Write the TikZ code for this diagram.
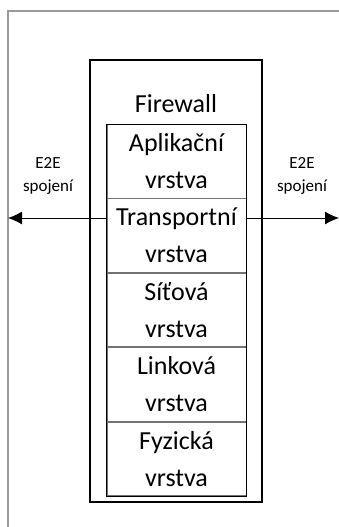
\documentclass[tikz,border=0pt]{standalone}
\usepackage{fontspec}
\setmainfont{Carlito}
\usetikzlibrary{positioning,arrows.meta}

\tikzset{
	layer/.style={draw=black!55,line width=0.8pt,minimum width=139pt,minimum height=73.6pt,
		inner sep=0pt,align=center,font=\fontsize{26}{37}\selectfont},
	e2e/.style={align=center,font=\fontsize{17}{23}\selectfont}
}

\begin{document}
\begin{tikzpicture}[x=1pt,y=-1pt]
		\useasboundingbox (0,0) rectangle (339,527);
		% frame
		\draw[black!40,line width=1.2pt] (339,11) -- (8,11) -- (8,527);
		\coordinate (lend) at (8,218);
		\coordinate (rend) at (339,218);
		% firewall box
		\node[draw,line width=1.6pt,minimum width=172pt,minimum height=442pt,inner sep=0pt] (fw) at (176,281) {};
		\node[font=\fontsize{26}{37}\selectfont] (fwlabel) at (176,104) {Firewall};
		% layers
		\node[layer,anchor=north] (app) at (176.5,124) {Aplikační\\vrstva};
		\node[layer,below=0pt of app] (tr) {Transportní\\vrstva};
		\node[layer,below=0pt of tr] (net) {Síťová\\vrstva};
		\node[layer,below=0pt of net] (link) {Linková\\vrstva};
		\node[layer,below=0pt of link] (phy) {Fyzická\\vrstva};
		\draw[line width=1pt] (app.north west) rectangle (phy.south east);
		% connections
		\draw[line width=1pt,-{Latex[length=14pt,width=13pt]}] (tr.west |- lend) -- (lend);
		\draw[line width=1pt,-{Latex[length=14pt,width=13pt]}] (tr.east |- rend) -- (rend);
		\node[e2e] (e2el) at (48,176) {E2E\\spojení};
		\node[e2e] (e2er) at (302,176) {E2E\\spojení};
	\end{tikzpicture}
\end{document}
